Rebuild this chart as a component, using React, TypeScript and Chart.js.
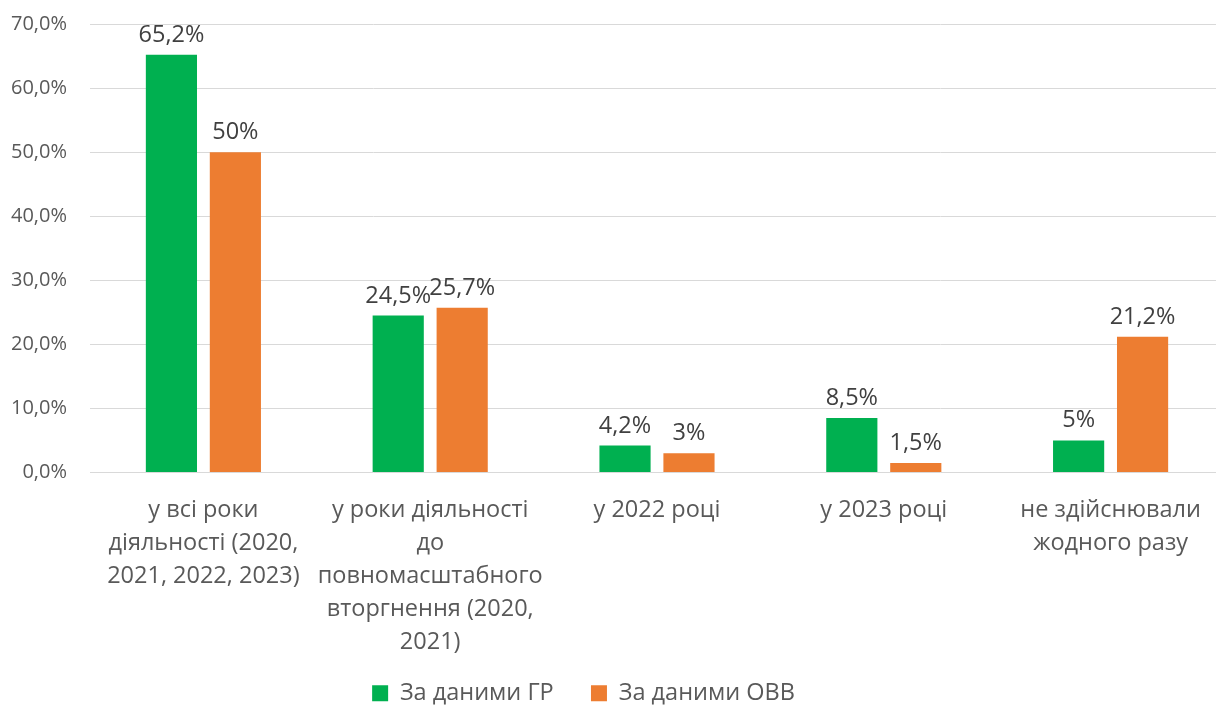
import React, { useEffect, useRef } from "react";
import { Chart, registerables } from "chart.js";

Chart.register(...registerables);

const categories: string[][] = [
  ["у всі роки", "діяльності (2020,", "2021, 2022, 2023)"],
  ["у роки діяльності", "до", "повномасштабного", "вторгнення (2020,", "2021)"],
  ["у 2022 році"],
  ["у 2023 році"],
  ["не здійснювали", "жодного разу"],
];
const seriesNames = ["За даними ГР", "За даними ОВВ"];
const seriesGR = [65.2, 24.5, 4.2, 8.5, 5];
const seriesOVV = [50, 25.7, 3, 1.5, 21.2];
const yTicks = [0, 10, 20, 30, 40, 50, 60, 70];

const GREEN = "#00B050";
const ORANGE = "#ED7D31";
const FONT = "'Open Sans', sans-serif";

const fmtLabel = (v: number) => String(v).replace(".", ",") + "%";

const dataLabelPlugin = {
  id: "dataLabels",
  afterDatasetsDraw(chart: any) {
    const ctx = chart.ctx;
    ctx.save();
    ctx.font = `23.5px ${FONT}`;
    ctx.fillStyle = "#404040";
    ctx.textAlign = "center";
    ctx.textBaseline = "alphabetic";
    chart.data.datasets.forEach((ds: any, di: number) => {
      const meta = chart.getDatasetMeta(di);
      meta.data.forEach((el: any, i: number) => {
        ctx.fillText(fmtLabel(ds.data[i]), el.x, el.y - 13);
      });
    });
    ctx.restore();
  },
};

export default function App() {
  const ref = useRef<HTMLCanvasElement | null>(null);
  useEffect(() => {
    if (!ref.current) return;
    const chart = new Chart(ref.current, {
      type: "bar",
      data: {
        labels: categories,
        datasets: [
          { label: seriesNames[0], data: seriesGR, backgroundColor: GREEN },
          { label: seriesNames[1], data: seriesOVV, backgroundColor: ORANGE },
        ],
      },
      options: {
        responsive: false,
        animation: false,
        devicePixelRatio: 1,
        layout: { padding: { top: 24, right: 1, left: 0, bottom: 0 } },
        datasets: { bar: { barPercentage: 0.8, categoryPercentage: 0.564 } },
        scales: {
          x: {
            grid: { display: false, drawTicks: false, tickLength: 0 },
            border: { display: false },
            ticks: {
              autoSkip: false,
              maxRotation: 0,
              minRotation: 0,
              padding: 21.5,
              color: "#595959",
              font: { family: FONT, size: 23.5, lineHeight: 33 / 23.5 },
            },
            afterFit: (scale: any) => {
              scale.height = 184;
            },
          },
          y: {
            min: 0,
            max: 70,
            afterBuildTicks: (scale: any) => {
              scale.ticks = yTicks.map((v) => ({ value: v }));
            },
            grid: {
              color: "#D9D9D9",
              lineWidth: 1,
              drawTicks: true,
              tickLength: 23,
              tickColor: "rgba(0,0,0,0)",
            },
            border: { display: false },
            ticks: {
              padding: 0,
              color: "#595959",
              font: { family: FONT, size: 20 },
              callback: (v: any) => Number(v).toFixed(1).replace(".", ",") + "%",
            },
            afterFit: (scale: any) => {
              scale.width = 147;
            },
          },
        },
        plugins: {
          legend: {
            position: "bottom",
            labels: {
              boxWidth: 16,
              boxHeight: 16,
              padding: 25,
              color: "#595959",
              font: { family: FONT, size: 23.5 },
              generateLabels: (c: any) => {
                const items = Chart.defaults.plugins.legend.labels.generateLabels(c);
                return items.map((it: any, i: number) =>
                  i < items.length - 1 ? { ...it, text: it.text + "  " } : it
                );
              },
            },
          },
          tooltip: { enabled: false },
        },
      },
      plugins: [dataLabelPlugin],
    });
    return () => chart.destroy();
  }, []);

  return (
    <div
      style={{
        position: "fixed",
        left: 0,
        top: 0,
        width: 1216,
        height: 706,
        overflow: "hidden",
        background: "#fff",
      }}
    >
      <canvas
        ref={ref}
        width={1282}
        height={715}
        style={{ position: "absolute", left: -57, top: 0, width: 1282, height: 715 }}
      />
    </div>
  );
}
